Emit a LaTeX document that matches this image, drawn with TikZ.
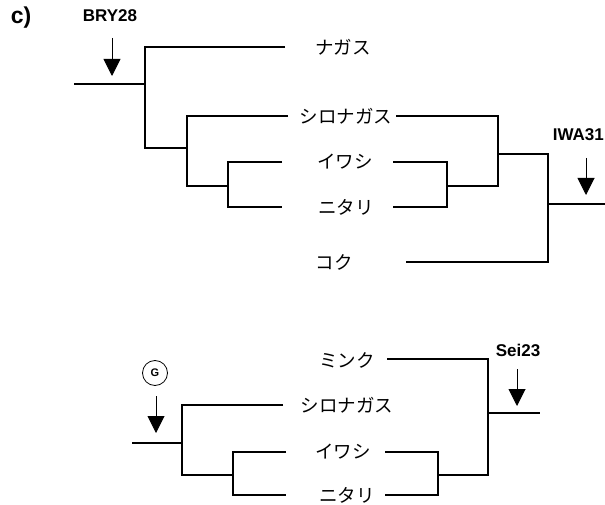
\documentclass[tikz,border=0pt]{standalone}
\usepackage{fontspec}
\setmainfont{Liberation Sans}
\newfontfamily\jp{Noto Sans CJK JP}
\usetikzlibrary{arrows.meta}
\tikzset{
  br/.style={line width=2.6pt, line join=miter},
  marker/.style={line width=1pt, -{Triangle[width=17pt,length=17pt]}},
  jlab/.style={inner sep=0pt, font=\jp\fontsize{18.5}{18.5}\selectfont},
  tag/.style={inner sep=0pt, font=\fontsize{17}{17}\selectfont\bfseries},
}
\begin{document}
\begin{tikzpicture}[x=1pt,y=-1pt]
\useasboundingbox (0,0) rectangle (605,505);
\node[inner sep=0pt, font=\fontsize{23}{23}\selectfont\bfseries] (c) at (21,18) {c)};

% ---------- top tree ----------
\node[tag] (bry) at (110,16) {BRY28};
\coordinate (bryTop) at (112,38);
\coordinate (bryTip) at (112,76);
\draw[marker] (bryTop) -- (bryTip);

\coordinate (a0) at (74,84);
\coordinate (a1) at (145,84);
\coordinate (a2) at (187,148);
\coordinate (a3) at (228,186);
\coordinate (nagasuL) at (285,47);
\coordinate (shiroL) at (288,116);
\coordinate (iwashiL) at (282,162);
\coordinate (nitariL) at (282,207);

\node[jlab] (nagasu) at (343,47) {ナガス};
\node[jlab] (shiro) at (346,116) {シロナガス};
\node[jlab] (iwashi) at (345,162) {イワシ};
\node[jlab] (nitari) at (346,207) {ニタリ};
\node[jlab] (koku) at (334,262) {コク};

\draw[br] (a0) -- (a1);
\draw[br] (nagasuL) -| (a1) |- (a2);
\draw[br] (shiroL) -| (a2) |- (a3);
\draw[br] (iwashiL) -| (a3) |- (nitariL);

\coordinate (shiroR) at (396,116);
\coordinate (iwashiR) at (393,162);
\coordinate (nitariR) at (393,207);
\coordinate (kokuR) at (406,262);
\coordinate (b1) at (447,186);
\coordinate (b2) at (498,154);
\coordinate (b3) at (548,204);
\coordinate (bEnd) at (606,204);

\draw[br] (iwashiR) -| (b1) |- (nitariR);
\draw[br] (shiroR) -| (b2) |- (b1);
\draw[br] (b2) -| (b3) |- (kokuR);
\draw[br] (b3) -- (bEnd);

\node[tag, anchor=east] (iwa) at (604,135) {IWA31};
\coordinate (iwaTop) at (586,158);
\coordinate (iwaTip) at (586,195);
\draw[marker] (iwaTop) -- (iwaTip);

% ---------- bottom tree ----------
\node[draw, circle, line width=0.8pt, minimum size=25pt, inner sep=0pt,
      font=\fontsize{11}{11}\selectfont\bfseries] (g) at (155,373) {G};
\coordinate (gTop) at (156,396);
\coordinate (gTip) at (156,433);
\draw[marker] (gTop) -- (gTip);

\coordinate (c0) at (132,443);
\coordinate (c1) at (182,443);
\coordinate (c2) at (233,475);
\coordinate (shiroBL) at (283,405);
\coordinate (iwashiBL) at (286,452);
\coordinate (nitariBL) at (286,495);

\node[jlab] (mink) at (347,360) {ミンク};
\node[jlab] (shiroB) at (347,405) {シロナガス};
\node[jlab] (iwashiB) at (343,452) {イワシ};
\node[jlab] (nitariB) at (347,495) {ニタリ};

\draw[br] (c0) -- (c1);
\draw[br] (shiroBL) -| (c1) |- (c2);
\draw[br] (iwashiBL) -| (c2) |- (nitariBL);

\coordinate (minkR) at (387,359);
\coordinate (iwashiBR) at (385,452);
\coordinate (nitariBR) at (385,495);
\coordinate (d1) at (438,475);
\coordinate (d2) at (488,413);
\coordinate (dEnd) at (540,413);

\draw[br] (iwashiBR) -| (d1) |- (nitariBR);
\draw[br] (minkR) -| (d2) |- (d1);
\draw[br] (d2) -- (dEnd);

\node[tag] (sei) at (518,350) {Sei23};
\coordinate (seiTop) at (517,369);
\coordinate (seiTip) at (517,406);
\draw[marker] (seiTop) -- (seiTip);
\end{tikzpicture}
\end{document}
